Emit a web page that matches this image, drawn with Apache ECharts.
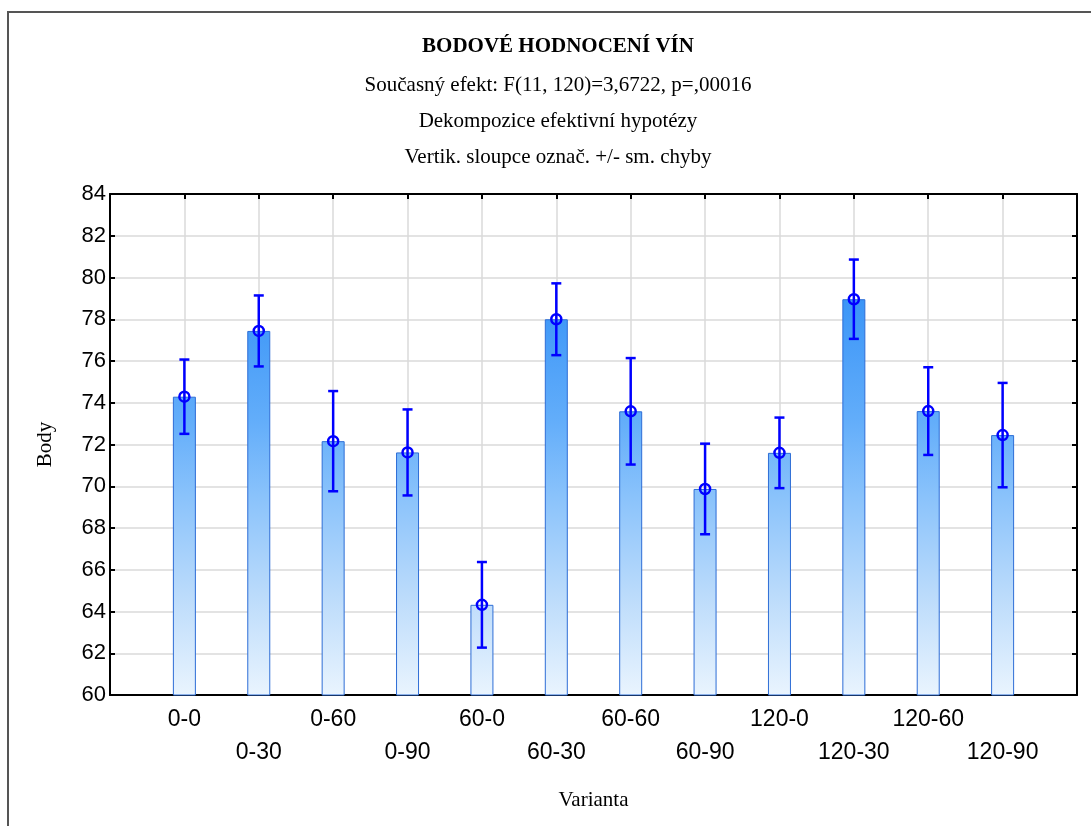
<!DOCTYPE html>
<html>
<head>
<meta charset="utf-8">
<title>Bodové hodnocení vín</title>
<script src="https://cdn.jsdelivr.net/npm/echarts@6/dist/echarts.min.js"></script>
<style>
  html, body { margin: 0; padding: 0; background: #fff; }
  #chart { width: 1091px; height: 826px; }
</style>
</head>
<body>
<div id="chart"></div>
<script>
// Wine score means per variant, with standard errors
const categories = ['0-0', '0-30', '0-60', '0-90', '60-0', '60-30', '60-60', '60-90', '120-0', '120-30', '120-60', '120-90'];
const means = [74.29, 77.44, 72.16, 71.62, 64.32, 78.0, 73.59, 69.87, 71.6, 78.96, 73.6, 72.45];
const stdErrors = [1.78, 1.7, 2.4, 2.06, 2.05, 1.72, 2.55, 2.17, 1.69, 1.9, 2.1, 2.5];
const yMin = 60, yMax = 84, yStep = 2;

const titleLines = [
  'BODOVÉ HODNOCENÍ VÍN',
  'Současný efekt: F(11, 120)=3,6722, p=,00016',
  'Dekompozice efektivní hypotézy',
  'Vertik. sloupce označ. +/- sm. chyby'
];

// Variants sit at positions 1..12 on a 0..13 axis
const barData = means.map((m, i) => [i + 1, m]);
const errData = means.map((m, i) => [i + 1, m - stdErrors[i], m + stdErrors[i], m]);

const grid = { left: 110, top: 194, right: 14, bottom: 131 };
const plotTop = grid.top, plotBottom = 826 - grid.bottom;

const serif = 'Liberation Serif';
const sans = 'Liberation Sans';

// Fill shade follows the value scale: darker towards the top of the plot
const barFill = {
  type: 'linear', x: 0, y: plotTop, x2: 0, y2: plotBottom, global: true,
  colorStops: [
    { offset: 0, color: '#2388f5' },
    { offset: 0.2, color: '#3994f7' },
    { offset: 0.45, color: '#62adfa' },
    { offset: 0.6, color: '#89c2fb' },
    { offset: 0.8, color: '#bbdbfb' },
    { offset: 1, color: '#e9f4fe' }
  ]
};

const frameLine = { show: true, onZero: false, lineStyle: { color: '#000', width: 2 } };
const tickStyle = { color: '#000', width: 2 };
const gridLine = { show: true, lineStyle: { color: '#dadada', width: 1.5 } };

const chart = echarts.init(document.getElementById('chart'), null, { renderer: 'canvas' });
chart.setOption({
  animation: false,
  backgroundColor: '#fff',
  graphic: [
    { type: 'rect', silent: true, z: -10,
      shape: { x: 8, y: 12, width: 1200, height: 900 },
      style: { fill: 'none', stroke: '#555', lineWidth: 2 } },
    ...titleLines.map((t, i) => ({
      type: 'text', silent: true,
      x: 558, y: [47, 85, 121, 157][i],
      style: {
        text: t, align: 'center', verticalAlign: 'middle',
        font: (i === 0 ? 'bold ' : '') + '21px "' + serif + '"',
        fill: '#000'
      }
    }))
  ],
  grid: Object.assign({ show: false }, grid),
  xAxis: [
    {
      type: 'value', min: 0, max: categories.length + 1, interval: 1,
      name: 'Varianta', nameLocation: 'middle', nameGap: 95,
      nameTextStyle: { fontFamily: serif, fontSize: 21, color: '#000' },
      axisLine: frameLine,
      axisTick: { show: true, inside: true, length: 5, lineStyle: tickStyle },
      axisLabel: {
        show: true, margin: 8, lineHeight: 33,
        fontFamily: sans, fontSize: 23, color: '#000',
        showMinLabel: false, showMaxLabel: false,
        formatter: v => {
          const i = Math.round(v) - 1;
          if (i < 0 || i >= categories.length) return '';
          return (i % 2 === 1 ? '\n' : '') + categories[i];
        }
      },
      splitLine: gridLine
    },
    {
      type: 'value', position: 'top', min: 0, max: categories.length + 1, interval: 1,
      axisLine: frameLine,
      axisTick: { show: true, inside: true, length: 5, lineStyle: tickStyle },
      axisLabel: { show: false },
      splitLine: { show: false }
    }
  ],
  yAxis: [
    {
      type: 'value', min: yMin, max: yMax, interval: yStep,
      name: 'Body', nameLocation: 'middle', nameGap: 54,
      nameTextStyle: { fontFamily: serif, fontSize: 21, color: '#000' },
      axisLine: frameLine,
      axisTick: { show: true, inside: true, length: 5, lineStyle: tickStyle },
      axisLabel: { margin: 4, fontFamily: sans, fontSize: 22, color: '#000' },
      splitLine: gridLine
    },
    {
      type: 'value', position: 'right', min: yMin, max: yMax, interval: yStep,
      axisLine: frameLine,
      axisTick: { show: true, inside: true, length: 5, lineStyle: tickStyle },
      axisLabel: { show: false },
      splitLine: { show: false }
    }
  ],
  series: [
    {
      type: 'bar', xAxisIndex: 0, yAxisIndex: 0,
      data: barData, barWidth: 23, clip: true,
      itemStyle: { color: barFill, borderColor: '#2d6dd6', borderWidth: 1 }
    },
    {
      type: 'custom', xAxisIndex: 0, yAxisIndex: 0,
      data: errData,
      encode: { x: 0, y: [1, 2, 3] },
      z: 5,
      renderItem: (params, api) => {
        const x = api.value(0);
        const lo = api.coord([x, api.value(1)]);
        const hi = api.coord([x, api.value(2)]);
        const mid = api.coord([x, api.value(3)]);
        const cap = 5;
        const style = { stroke: '#0000ff', lineWidth: 2.5, fill: 'none' };
        return {
          type: 'group',
          children: [
            { type: 'line', shape: { x1: hi[0], y1: hi[1], x2: lo[0], y2: lo[1] }, style },
            { type: 'line', shape: { x1: hi[0] - cap, y1: hi[1], x2: hi[0] + cap, y2: hi[1] }, style },
            { type: 'line', shape: { x1: lo[0] - cap, y1: lo[1], x2: lo[0] + cap, y2: lo[1] }, style },
            { type: 'circle', shape: { cx: mid[0], cy: mid[1], r: 5 }, style }
          ]
        };
      }
    }
  ]
});
</script>
</body>
</html>
